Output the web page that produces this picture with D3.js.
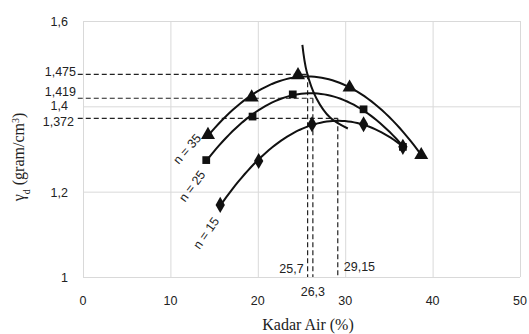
<!DOCTYPE html>
<html>
<head>
<meta charset="utf-8">
<script src="https://cdn.jsdelivr.net/npm/d3@7"></script>
<style>
  body { margin: 0; background: #fff; }
  text { fill: #222; }
</style>
</head>
<body>
<div id="chart"></div>
<script>
// compaction test data
const x35 = [14.3, 19.3, 24.6, 30.5, 38.7];
const y35 = [1.333, 1.421, 1.473, 1.444, 1.286];
const x25 = [14.1, 19.4, 24.0, 32.1, 36.6];
const y25 = [1.274, 1.376, 1.428, 1.393, 1.305];
const x15 = [15.7, 20.1, 26.2, 32.1, 36.6];
const y15 = [1.169, 1.272, 1.358, 1.358, 1.305];

// optimum values (dashed guides)
const optX = [25.7, 26.3, 29.15];
const optY = [1.475, 1.419, 1.372];
const optXLabels = ["25,7", "26,3", "29,15"];
const optYLabels = ["1,475", "1,419", "1,372"];

// line through the optimums
const lineOptX = [25.1, 25.6, 26.7, 28.3, 30.3];
const lineOptY = [1.544, 1.481, 1.419, 1.373, 1.348];

const xTicks = [0, 10, 20, 30, 40, 50];
const yTicks = [1, 1.2, 1.4, 1.6];
const yTickLabels = ["1", "1,2", "1,4", "1,6"];

const width = 529;
const height = 334;
const plot = {left: 83, right: 520, top: 21, bottom: 277};
const labelFont = "12.5px 'Liberation Sans', sans-serif";

let xScale = d3.scaleLinear().domain([0, 50]).range([plot.left, plot.right]);
let yScale = d3.scaleLinear().domain([1, 1.6]).range([plot.bottom, plot.top]);

let svg = d3.select("#chart").append("svg")
    .attr("width", width)
    .attr("height", height);

// grid
svg.append("g")
    .attr("transform", "translate(0," + plot.bottom + ")")
    .call(d3.axisBottom(xScale).tickValues(xTicks).tickSize(-(plot.bottom - plot.top)).tickFormat(""))
    .call(g => g.select(".domain").remove())
    .selectAll("line").attr("stroke", "#d9d9d9");
svg.append("g")
    .attr("transform", "translate(" + plot.left + ",0)")
    .call(d3.axisLeft(yScale).tickValues(yTicks).tickSize(-(plot.right - plot.left)).tickFormat(""))
    .call(g => g.select(".domain").remove())
    .selectAll("line").attr("stroke", "#d9d9d9");

// tick labels
svg.append("g").selectAll("text")
    .data(xTicks).enter().append("text")
    .attr("x", d => xScale(d))
    .attr("y", 305)
    .attr("text-anchor", "middle")
    .style("font", labelFont)
    .text(d => d);
svg.append("g").selectAll("text")
    .data(yTicks).enter().append("text")
    .attr("x", 68)
    .attr("y", d => yScale(d) + (d == 1.4 ? 4 : 5))
    .attr("text-anchor", "end")
    .style("font", labelFont)
    .text((d, i) => yTickLabels[i]);

// dashed guides
let guides = svg.append("g")
    .attr("stroke", "#222")
    .attr("stroke-width", 1.2)
    .attr("stroke-dasharray", "5,3");
optX.forEach(function (d, i) {
    guides.append("line")
        .attr("x1", xScale(-0.6)).attr("x2", xScale(d))
        .attr("y1", yScale(optY[i])).attr("y2", yScale(optY[i]));
    guides.append("line")
        .attr("x1", xScale(d)).attr("x2", xScale(d))
        .attr("y1", yScale(optY[i])).attr("y2", yScale(1));
});

// optimum labels
let yOff = [2, -2, 8];
svg.append("g").selectAll("text")
    .data(optYLabels).enter().append("text")
    .attr("x", (d, i) => i == 2 ? 74 : 76)
    .attr("y", (d, i) => yScale(optY[i]) + yOff[i])
    .attr("text-anchor", "end")
    .style("font", labelFont)
    .text(d => d);
svg.append("text").attr("x", xScale(optX[0]) - 4).attr("y", 273)
    .attr("text-anchor", "end").style("font", labelFont).text(optXLabels[0]);
svg.append("text").attr("x", xScale(optX[1])).attr("y", 296)
    .attr("text-anchor", "middle").style("font", labelFont).text(optXLabels[1]);
svg.append("text").attr("x", xScale(optX[2]) + 6).attr("y", 271)
    .attr("text-anchor", "start").style("font", labelFont).text(optXLabels[2]);

// second order trendline (least squares)
function quadFit(xs, ys) {
    let s = [0, 0, 0, 0, 0], t = [0, 0, 0];
    xs.forEach(function (x, i) {
        for (let k = 0; k < 5; k++) s[k] += Math.pow(x, k);
        for (let k = 0; k < 3; k++) t[k] += Math.pow(x, k) * ys[i];
    });
    let m = [[s[0], s[1], s[2], t[0]], [s[1], s[2], s[3], t[1]], [s[2], s[3], s[4], t[2]]];
    for (let c = 0; c < 3; c++) {
        for (let r = c + 1; r < 3; r++) {
            let f = m[r][c] / m[c][c];
            for (let k = c; k < 4; k++) m[r][k] -= f * m[c][k];
        }
    }
    let a = [0, 0, 0];
    for (let r = 2; r >= 0; r--) {
        let v = m[r][3];
        for (let k = r + 1; k < 3; k++) v -= m[r][k] * a[k];
        a[r] = v / m[r][r];
    }
    return x => a[0] + a[1] * x + a[2] * x * x;
}

let line = d3.line().x(d => xScale(d[0])).y(d => yScale(d[1]));

function drawSeries(xs, ys, symbol, size) {
    let f = quadFit(xs, ys);
    let lo = d3.min(xs), hi = d3.max(xs);
    let pts = d3.range(lo, hi + 0.001, (hi - lo) / 60).map(x => [x, f(x)]);
    svg.append("path")
        .attr("d", line(pts))
        .attr("fill", "none")
        .attr("stroke", "#111")
        .attr("stroke-width", 2);
    svg.append("g").selectAll("path")
        .data(xs).enter().append("path")
        .attr("d", d3.symbol().type(symbol).size(size))
        .attr("transform", (d, i) => "translate(" + xScale(d) + "," + yScale(ys[i]) + ")")
        .attr("fill", "#111");
}

drawSeries(x15, y15, d3.symbolDiamond, 75);
drawSeries(x25, y25, d3.symbolSquare, 60);
drawSeries(x35, y35, d3.symbolTriangle, 85);

// line of optimums
svg.append("path")
    .attr("d", d3.line().curve(d3.curveCatmullRom)
        .x((d, i) => xScale(d)).y((d, i) => yScale(lineOptY[i]))(lineOptX))
    .attr("fill", "none")
    .attr("stroke", "#111")
    .attr("stroke-width", 2);

// n labels
let nLabels = [["n = 35", 187, 149, -49], ["n = 25", 192, 186, -53], ["n = 15", 206, 233, -55]];
svg.append("g").selectAll("text")
    .data(nLabels).enter().append("text")
    .attr("transform", d => "translate(" + d[1] + "," + d[2] + ") rotate(" + d[3] + ")")
    .attr("dy", "0.35em")
    .attr("text-anchor", "middle")
    .style("font", labelFont)
    .text(d => d[0]);

// axis titles
svg.append("text")
    .attr("x", 308).attr("y", 330)
    .attr("text-anchor", "middle")
    .style("font", "16px 'Liberation Serif', serif")
    .text("Kadar Air (%)");
let yTitle = svg.append("text")
    .attr("transform", "translate(24,157) rotate(-90)")
    .attr("text-anchor", "middle")
    .style("font", "16px 'Liberation Serif', serif");
yTitle.append("tspan").text("γ");
yTitle.append("tspan").attr("baseline-shift", "sub").style("font-size", "10px").text("d");
yTitle.append("tspan").text(" (gram/cm");
yTitle.append("tspan").attr("baseline-shift", "super").style("font-size", "10px").text("3");
yTitle.append("tspan").text(")");
</script>
</body>
</html>
